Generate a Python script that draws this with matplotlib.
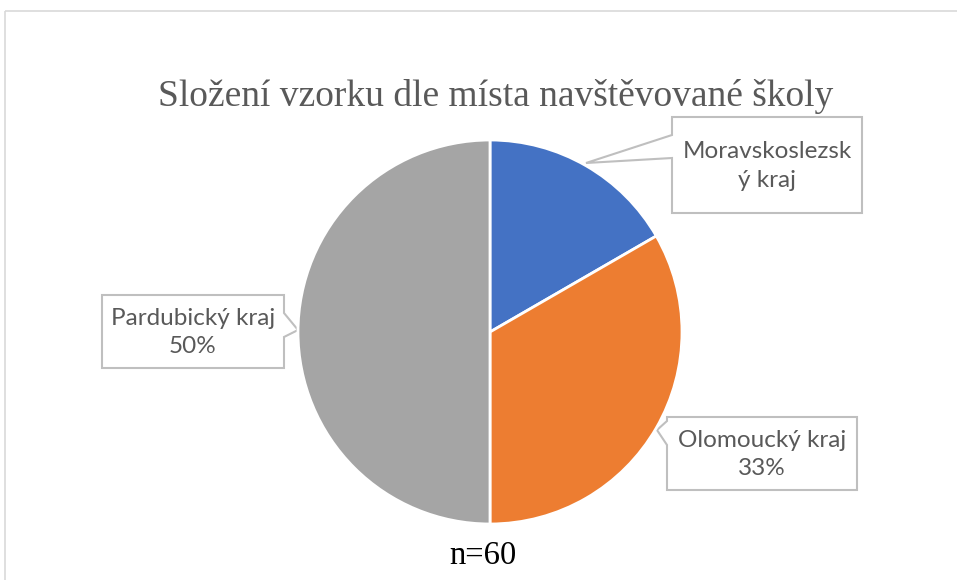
import matplotlib.pyplot as plt
from matplotlib.patches import Polygon, Rectangle

# data
categories = ["Moravskoslezský kraj", "Olomoucký kraj", "Pardubický kraj"]
counts = [10, 20, 30]
colors = ["#4472C4", "#ED7D31", "#A5A5A5"]
label_texts = ["Moravskoslezsk\ný kraj", "Olomoucký kraj\n33%", "Pardubický kraj\n50%"]
title = "Složení vzorku dle místa navštěvované školy"
note = "n=60"

W, H = 957, 580
fig = plt.figure(figsize=(W / 100, H / 100), dpi=100)

# overlay in pixel coordinates for frame and callouts
over = fig.add_axes([0, 0, 1, 1])
over.set_xlim(0, W)
over.set_ylim(H, 0)
over.axis("off")
over.add_patch(Rectangle((5, 11), W, H, fill=False, edgecolor="#d9d9d9", lw=1.2))

# pie
cx, cy, r = 490, 332, 192
ax = fig.add_axes([(cx - r) / W, (H - cy - r) / H, 2 * r / W, 2 * r / H])
ax.pie(counts, colors=colors, startangle=90, counterclock=False,
       wedgeprops=dict(edgecolor="white", linewidth=2))
ax.set_xlim(-1, 1)
ax.set_ylim(-1, 1)
ax.set_aspect("auto")

# callouts: (box left, top, right, bottom), tail side, tail y range, tip
callouts = [
    ((672, 117, 862, 213), "left", (135, 158), (586, 163)),
    ((667, 417, 857, 490), "left", (421, 445), (657, 430)),
    ((102, 295, 284, 368), "right", (313, 337), (298, 330)),
]
for (l, t, rr, b), side, (y1, y2), tip in callouts:
    if side == "left":
        pts = [(l, t), (rr, t), (rr, b), (l, b), (l, y2), tip, (l, y1)]
    else:
        pts = [(l, t), (rr, t), (rr, y1), tip, (rr, y2), (rr, b), (l, b)]
    over.add_patch(Polygon(pts, closed=True, facecolor="white", edgecolor="#bfbfbf",
                           lw=1.5, zorder=3))

for (box, _, _, _), txt in zip(callouts, label_texts):
    l, t, rr, b = box
    over.text((l + rr) / 2, (t + b) / 2 + 1, txt, ha="center", va="center",
              fontsize=17.5, family="Lato", color="#595959", linespacing=1.45, zorder=4)

over.text(496, 97, title, ha="center", va="center", fontsize=27,
          family="Liberation Serif", color="#595959")
over.text(483, 556, note, ha="center", va="center", fontsize=23.5,
          family="Liberation Serif", color="black")

fig.savefig("out.png", dpi=100)
